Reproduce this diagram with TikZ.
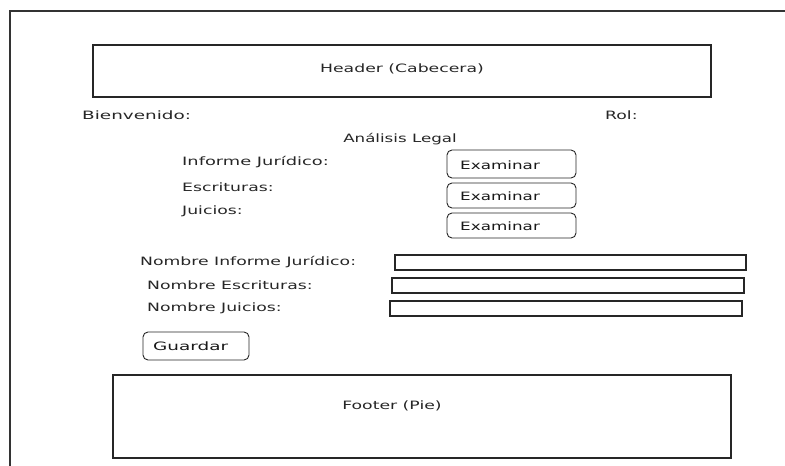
\documentclass[tikz,border=0pt]{standalone}
\usepackage{fontspec}
\setmainfont{DejaVu Sans}
% labels are set stretched sideways
\newcommand{\stretchtext}[2][1.5]{\scalebox{#1}[1]{#2}}
\begin{document}
\begin{tikzpicture}[x=1pt,y=-1pt,
  frame/.style={draw=black!80,line width=1.2pt},
  box/.style={draw=black!85,line width=1.1pt},
  btn/.style={draw=black!85,line width=0.9pt,rounded corners=5pt},
  field/.style={draw=black!85,line width=1.1pt},
  lbl/.style={font=\fontsize{11.5}{13}\selectfont,text=black!85,inner sep=0pt},
  blbl/.style={font=\fontsize{11.5}{13}\selectfont,text=black!90,inner sep=0pt,anchor=west}]
\useasboundingbox (0,0) rectangle (785,466);
\fill[white] (0,0) rectangle (785,466);
% page frame, open to the right and bottom
\coordinate (ftr) at (785,11);
\coordinate (ftl) at (10,11);
\coordinate (fbl) at (10,466);
\draw[frame] (ftr) -- (ftl) -- (fbl);
% header
\draw[box] (93,45) rectangle (711,97);
\node[lbl] (head) at (402,69) {\stretchtext{Header (Cabecera)}};
\node[lbl,anchor=west] (bien) at (82,115) {\stretchtext[1.6]{Bienvenido:}};
\node[lbl,anchor=west] (rol) at (605,115) {\stretchtext{Rol:}};
\node[lbl] (title) at (400,139) {\stretchtext[1.45]{Análisis Legal}};
% file pickers
\node[lbl,anchor=west] (inf) at (182,162) {\stretchtext[1.55]{Informe Jurídico:}};
\node[lbl,anchor=west] (esc) at (182,187) {\stretchtext{Escrituras:}};
\node[lbl,anchor=west] (jui) at (182,211) {\stretchtext{Juicios:}};
\draw[btn] (447,150) rectangle (576,178);
\node[blbl] (b1) at (460,165) {\stretchtext[1.46]{Examinar}};
\draw[btn] (447,183) rectangle (576,208);
\node[blbl] (b2) at (460,196) {\stretchtext[1.46]{Examinar}};
\draw[btn] (447,213) rectangle (576,238);
\node[blbl] (b3) at (460,226) {\stretchtext[1.46]{Examinar}};
% name fields
\node[lbl,anchor=west] (n1) at (140,262) {\stretchtext{Nombre Informe Jurídico:}};
\node[lbl,anchor=west] (n2) at (147,285) {\stretchtext{Nombre Escrituras:}};
\node[lbl,anchor=west] (n3) at (147,308) {\stretchtext{Nombre Juicios:}};
\draw[field] (395,255) rectangle (746,270);
\draw[field] (392,278) rectangle (744,293);
\draw[field] (390,301) rectangle (742,316);
% save button
\draw[btn] (143,332) rectangle (249,360);
\node[blbl] (sv) at (153,346) {\stretchtext[1.6]{Guardar}};
% footer
\draw[box] (113,375) rectangle (731,458);
\node[lbl] (foot) at (392,406) {\stretchtext{Footer (Pie)}};
\end{tikzpicture}
\end{document}
